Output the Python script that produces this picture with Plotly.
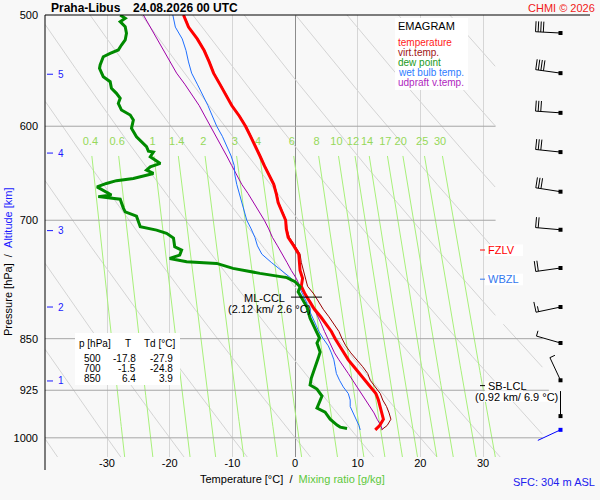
import numpy as np
import plotly.graph_objects as go

# ------------------------------------------------------------------ data
station = "Praha-Libus"
valid_time = "24.08.2026 00 UTC"
credit = "CHMI © 2026"
sfc_text = "SFC: 304 m ASL"

p_lev = [500, 510, 520, 530, 540, 550, 560, 570, 580, 590, 600, 610, 620, 630, 640,
         650, 660, 670, 680, 690, 700, 710, 720, 730, 740, 750, 760, 770, 780, 790,
         800, 810, 820, 830, 840, 850, 860, 870, 880, 890, 900, 910, 920, 930, 940,
         950, 960, 970, 980, 987]
temp = [-17.8, -17.0, -15.6, -14.5, -13.7, -13.0, -12.0, -11.1, -10.1, -8.9, -7.9, -7.1,
        -6.4, -5.6, -4.9, -4.1, -3.4, -3.0, -2.7, -2.1, -1.5, -1.4, -1.1, -0.2, 0.6, 0.7,
        0.8, 1.2, 1.0, 1.6, 2.3, 3.1, 4.1, 5.0, 5.8, 6.4, 7.1, 7.8, 8.5, 9.4, 10.3, 11.2,
        12.0, 12.9, 13.3, 13.6, 13.9, 14.1, 13.5, 12.8]
virt_temp = [-17.7, -16.9, -15.5, -14.4, -13.6, -12.9, -11.9, -11.0, -10.0, -8.8, -7.8,
             -7.0, -6.3, -5.5, -4.8, -4.0, -3.3, -2.9, -2.6, -2.0, -1.4, -1.3, -0.9, 0.0,
             0.8, 1.0, 1.3, 1.7, 2.0, 3.0, 3.7, 4.5, 5.4, 6.2, 7.0, 7.5, 8.1, 8.9, 9.9,
             10.8, 11.6, 12.0, 12.8, 13.6, 14.0, 14.6, 15.0, 15.3, 14.7, 13.8]
wetbulb = [-19.5, -19.1, -18.0, -17.4, -17.0, -16.5, -15.6, -14.7, -13.9, -13.2, -12.5,
           -11.6, -10.9, -10.2, -9.7, -9.6, -9.3, -8.9, -8.5, -8.1, -7.7, -7.0, -6.4,
           -6.0, -5.3, -3.8, -2.2, -0.6, 0.6, 1.2, 1.8, 2.2, 2.7, 3.2, 3.8, 4.5, 5.3, 5.8,
           6.2, 6.4, 6.6, 7.1, 7.7, 8.5, 8.8, 8.8, 9.3, 9.8, 10.2, 10.4]
updraft_vt = [-24.2, -23.1, -22.0, -21.0, -20.0, -18.9, -17.6, -16.4, -15.3, -14.4, -13.5,
              -12.5, -11.7, -10.9, -10.1, -9.3, -8.5, -7.5, -6.6, -5.7, -4.9, -4.2, -3.6,
              -2.8, -2.0, -1.3, -0.6, 0.2, 0.8, 1.5, 2.5, 3.1, 3.6, 4.2, 4.7, 5.2, 5.8,
              6.3, 7.0, 7.8, 8.5, 9.2, 9.9, 10.6, 11.3, 12.0, 12.6, 13.1, 13.7, 13.9]

p_dew = [500.0, 502.7, 505.5, 509.7, 515.2, 520.9, 525.2, 529.5, 532.4, 535.4, 542.7,
         545.7, 553.2, 557.8, 563.8, 568.5, 573.2, 577.9, 584.3, 589.1, 593.9, 602.1,
         610.4, 617.1, 620.5, 625.0, 626.0, 630.8, 637.7, 641.3, 644.8, 648.3, 653.6,
         656.0, 659.0, 662.7, 666.3, 671.7, 673.4, 676.2, 686.2, 690.4, 695.3, 707.5,
         711.4, 715.2, 720.7, 731.1, 735.1, 741.2, 745.2, 749.3, 751.3, 757.5, 763.7,
         769.0, 774.3, 780.7, 787.1, 797.9, 807.1, 821.8, 831.2, 842.2, 849.1, 856.1,
         868.9, 877.5, 891.9, 906.6, 917.1, 923.2, 933.8, 946.2, 952.4, 958.7, 969.8,
         979.4, 982.6, 984.7]
dewpoint = [-27.9, -27.1, -27.9, -27.1, -26.9, -27.1, -27.7, -28.2, -29.5, -30.6, -31.1,
            -31.2, -30.6, -29.5, -29.3, -28.5, -27.9, -28.2, -27.7, -26.3, -25.8, -26.1,
            -25.3, -24.2, -23.7, -23.4, -22.6, -23.1, -21.5, -23.1, -23.7, -22.6, -25.8,
            -28.5, -30.1, -31.6, -30.6, -29.3, -31.4, -27.9, -27.4, -27.1, -25.3, -24.7,
            -22.1, -20.5, -19.4, -19.2, -18.1, -18.4, -20.0, -17.3, -12.5, -9.9, -5.6,
            -1.3, 0.0, 0.8, 0.5, 1.3, 1.9, 2.4, 2.9, 3.5, 3.9, 3.5, 4.0, 3.7, 3.2, 2.6,
            2.4, 3.5, 4.3, 3.7, 3.5, 4.8, 5.6, 6.7, 7.2, 8.3]

mixr_values = [0.4, 0.6, 1, 1.4, 2, 3, 4, 6, 8, 10, 12, 14, 17, 20, 25, 30]
mixr_labels = ["0.4", "0.6", "1", "1.4", "2", "3", "4", "6", "8", "10", "12", "14",
               "17", "20", "25", "30"]
theta_values = [-40, -30, -20, -10, 0, 10, 20, 30, 40, 50, 60, 70, 80, 90, 100]
isotherm_values = [-30, -20, -10, 0, 10, 20, 30]
isobar_values = [600, 700, 850, 925, 1000]
p_tick_values = [500, 600, 700, 850, 925, 1000]
t_tick_values = [-30, -20, -10, 0, 10, 20, 30]

alt_km = [1, 2, 3, 4, 5]
alt_p = [911, 807, 712, 627, 551]

wind_p = [987, 965, 910, 856, 807, 757, 711, 668, 626, 587, 550, 515]
wind_dir = [245, 360, 335, 286, 258, 262, 275, 279, 276, 274, 278, 273]
wind_kt = [0, 0, 5, 5, 15, 20, 20, 30, 30, 30, 40, 40]

table_p = [500, 700, 850]
table_t = [-17.8, -1.5, 6.4]
table_td = [-27.9, -24.8, 3.9]

fzlv_p = 735
wbzl_p = 771
sb_lcl_p, sb_lcl_km, sb_lcl_t = 918, 0.92, 6.9
ml_ccl_p, ml_ccl_km, ml_ccl_t = 794, 2.12, 2.6

# ------------------------------------------------------------------ geometry
W, H = 600, 500
ML, MR, MT, MB = 45, 5, 15, 43
PW, PH = W - ML - MR, H - MT - MB
PX_PER_C = 6.2667
PX_PER_LN = 610.0
X0 = -39.9
X1 = X0 + PW / PX_PER_C
P_TOP = 500.0
P_BOT = P_TOP * np.exp(PH / PX_PER_LN)


def t_of_px(px):
    return X0 + (px - ML) / PX_PER_C


def p_of_py(py):
    return P_TOP * np.exp((py - MT) / PX_PER_LN)


def py_of_p(p):
    return MT + PX_PER_LN * np.log(p / P_TOP)


def xp(px):
    return (px - ML) / PW


def yp(py):
    return (MT + PH - py) / PH


BG = "#f8f8f8"
ADIA_C = "#d4d4d4"
ISO_C = "#d6d6d6"
ZERO_C = "#8c8c8c"
ISOBAR_C = "#a6a6a6"
MIX_C = "#a8f07a"
MIX_T = "#96d85a"
BLUE_T = "#1a1aff"

fig = go.Figure()


def add_line(xs, ys, color, width):
    fig.add_trace(go.Scatter(x=xs, y=ys, mode="lines", line=dict(color=color, width=width),
                             hoverinfo="skip", showlegend=False, connectgaps=False))


def none_list(arr):
    return [None if (v is None or (isinstance(v, float) and np.isnan(v))) else float(v)
            for v in arr]


# dry adiabats
pp = np.geomspace(P_TOP, P_BOT, 700)
ax_, ay_ = [], []
for th in theta_values:
    t = (th + 273.15) * (pp / 1000.0) ** 0.286 - 273.15
    tmax = np.where(pp >= 830, 39.5, 32.0)
    ok = (t >= X0) & (t <= tmax)
    ax_ += none_list(np.where(ok, t, np.nan)) + [None]
    ay_ += list(pp) + [None]
add_line(ax_, ay_, ADIA_C, 1)


# mixing ratio lines
def t_mixr(w, p):
    e = w * p / (622.0 + w)
    a = np.log(e / 6.112)
    return 243.5 * a / (17.67 - a)


pm = np.geomspace(630, P_BOT, 60)
mx_, my_ = [], []
for w in mixr_values:
    mx_ += list(t_mixr(w, pm)) + [None]
    my_ += list(pm) + [None]
add_line(mx_, my_, MIX_C, 1)

# isobars
for p in isobar_values:
    tend = 32.0 if p < 830 else (40.5 if p == 925 else 39.5)
    add_line([X0, tend], [p, p], ISOBAR_C, 1)

# sounding curves
add_line(updraft_vt, p_lev, "#a000a8", 1)
add_line(wetbulb, p_lev, "#1f6fff", 1)
add_line(virt_temp, p_lev, "#990000", 1)
add_line(temp, p_lev, "#ff0000", 3)
add_line(dewpoint, p_dew, "#008a00", 3)

# mixing ratio labels
fig.add_trace(go.Scatter(x=[float(t_mixr(w, 616.0)) for w in mixr_values],
                         y=[616.0] * len(mixr_values), mode="text", text=mixr_labels,
                         textposition="middle center",
                         textfont=dict(color=MIX_T, size=11), hoverinfo="skip",
                         showlegend=False))

# wind barbs
SX = 560.5
STAFF, FULL, HALF, GAP = 25.0, 10.5, 5.5, 2.6
for is_sfc in (False, True):
    bx, by, dx, dy = [], [], [], []
    for i, (p, d, s) in enumerate(zip(wind_p, wind_dir, wind_kt)):
        if (i == 0) != is_sfc:
            continue
        sy = py_of_p(p)
        r = np.radians(d)
        u = np.array([np.sin(r), -np.cos(r)])
        b = np.array([-u[1], u[0]])
        st = np.array([SX, sy])
        tip = st + STAFF * u
        segs = [(st, tip)]
        pos = 0.0
        for _ in range(s // 10):
            base = tip - u * pos
            segs.append((base, base + FULL * b))
            pos += GAP
        if s % 10 >= 5:
            base = tip - u * pos
            segs.append((base, base + HALF * b))
        for a0, a1 in segs:
            bx += [t_of_px(a0[0]), t_of_px(a1[0]), None]
            by += [p_of_py(a0[1]), p_of_py(a1[1]), None]
        dx.append(t_of_px(SX))
        dy.append(p)
    col = "#0000ff" if is_sfc else "#000000"
    add_line(bx, by, col, 1)
    fig.add_trace(go.Scatter(x=dx, y=dy, mode="markers",
                             marker=dict(symbol="square", size=4, color=col),
                             hoverinfo="skip", showlegend=False))

# ------------------------------------------------------------------ shapes
shapes = []


def rect(x0, y0, x1, y1):
    shapes.append(dict(type="rect", xref="paper", yref="paper", x0=xp(x0), x1=xp(x1),
                       y0=yp(y1), y1=yp(y0), fillcolor="white", line=dict(width=0),
                       layer="above"))


def pline(x0, y0, x1, y1, color, width=1):
    shapes.append(dict(type="line", xref="paper", yref="paper", x0=xp(x0), x1=xp(x1),
                       y0=yp(y0), y1=yp(y1), line=dict(color=color, width=width),
                       layer="above"))


rect(395, 18, 468, 90)        # legend box
rect(75, 333, 180, 385)       # table box
y_fz = py_of_p(fzlv_p)
y_wb = py_of_p(wbzl_p)
y_lcl = py_of_p(sb_lcl_p)
y_ccl = py_of_p(ml_ccl_p)
rect(485, y_fz - 5.5, 523, y_fz + 6)
rect(485, y_wb - 5.5, 523, y_wb + 6)
rect(485, y_lcl - 4.5, 523, y_lcl + 5)
rect(477, y_lcl + 5.5, 556, y_lcl + 16)
pline(480, y_fz, 485, y_fz, "#ff0000")
pline(480, y_wb, 485, y_wb, "#3377ee")
pline(480, y_lcl, 485, y_lcl, "#000000")
pline(291, y_ccl, 322, y_ccl, "#000000")
pline(ML, MT, 590, MT, "#000000")
pline(ML, MT, ML, 470, "#000000")
for p in alt_p:
    yy = py_of_p(p)
    pline(47, yy, 53, yy, BLUE_T)

# ------------------------------------------------------------------ annotations
anns = []


def ann(text, px, py, color="black", size=11, xanchor="left", **kw):
    anns.append(dict(text=text, x=xp(px), y=yp(py), xref="paper", yref="paper",
                     xanchor=xanchor, yanchor="middle", showarrow=False,
                     font=dict(color=color, size=size), **kw))


ann("<b>" + station + "</b>", 49, 7.5, size=12)
ann("<b>" + valid_time + "</b>", 130.5, 7.5, size=12)
ann(credit, 597, 7.5, color="#f01818", size=11, xanchor="right")

ann("EMAGRAM", 396, 26, size=11)
legend_items = [("temperature", "#ff1a1a"), ("virt.temp.", "#a01515"),
                ("dew point", "#1a9a1a"), ("wet bulb temp.", "#2f7cff"),
                ("udpraft v.temp.", "#b01fc0")]
for k, (txt, c) in enumerate(legend_items):
    ann(txt, 396, 42.3 + 10 * k, color=c, size=10)

for km, p in zip(alt_km, alt_p):
    ann(str(km), 56, py_of_p(p), color=BLUE_T, size=10)

ann("p [hPa]", 77, 343, size=10)
ann("T", 127.5, 343, size=10, xanchor="center")
ann("Td [°C]", 142, 343, size=10)
for k, (pv, tv, dv) in enumerate(zip(table_p, table_t, table_td)):
    yy = 358.5 + 10 * k
    ann(str(pv), 103, yy, size=10, xanchor="right")
    ann(f"{tv:.1f}", 137.5, yy, size=10, xanchor="right")
    ann(f"{dv:.1f}", 174.5, yy, size=10, xanchor="right")

ann("FZLV", 486, y_fz, color="#ff0000", size=11)
ann("WBZL", 486, y_wb, color="#3377ee", size=11)
ann("SB-LCL", 486, y_lcl, size=11)
ann(f"({sb_lcl_km:.2f} km/ {sb_lcl_t:.1f} °C)", 516, y_lcl + 11, size=11,
    xanchor="center")
ann("ML-CCL", 264, y_ccl + 1, size=11, xanchor="center")
ann(f"({ml_ccl_km:.2f} km/ {ml_ccl_t:.1f} °C)", 269, y_ccl + 11.5, size=11,
    xanchor="center")

ann("Temperature [°C]\u00a0\u00a0/\u00a0\u00a0<span style='color:#5ec83c'>Mixing ratio [g/kg]</span>",
    292, 479, size=11, xanchor="center")
ann(sfc_text, 511, 481.5, color="#2020ee", size=11)
anns.append(dict(text="Pressure [hPa]\u00a0\u00a0/\u00a0\u00a0<span style='color:#1a1aff'>Altitude [km]</span>",
                 x=xp(8), y=yp(262), xref="paper", yref="paper", xanchor="center",
                 yanchor="middle", showarrow=False, textangle=-90,
                 font=dict(color="black", size=11)))

fig.update_layout(
    width=W, height=H,
    margin=dict(l=ML, r=MR, t=MT, b=MB, pad=0),
    paper_bgcolor=BG, plot_bgcolor=BG, showlegend=False,
    font=dict(family="Liberation Sans, Arial, sans-serif", size=11, color="black"),
    xaxis=dict(range=[X0, X1], tickvals=t_tick_values,
               ticktext=[str(v) for v in t_tick_values], showgrid=True,
               gridcolor=ISO_C, gridwidth=1, zeroline=True, zerolinecolor=ZERO_C,
               zerolinewidth=1, showline=False, ticks="", tickfont=dict(size=11),
               ticklabelstandoff=-2, fixedrange=True),
    yaxis=dict(type="log", range=[np.log10(P_BOT), np.log10(P_TOP)],
               tickvals=p_tick_values, ticktext=[str(v) for v in p_tick_values],
               showgrid=False, zeroline=False, showline=False, ticks="",
               tickfont=dict(size=11), ticklabelstandoff=6, fixedrange=True),
    shapes=shapes, annotations=anns,
)

fig.write_html("out.html", config={"displayModeBar": False},
               post_script="document.body.style.margin='0';document.body.style.padding='0';")
